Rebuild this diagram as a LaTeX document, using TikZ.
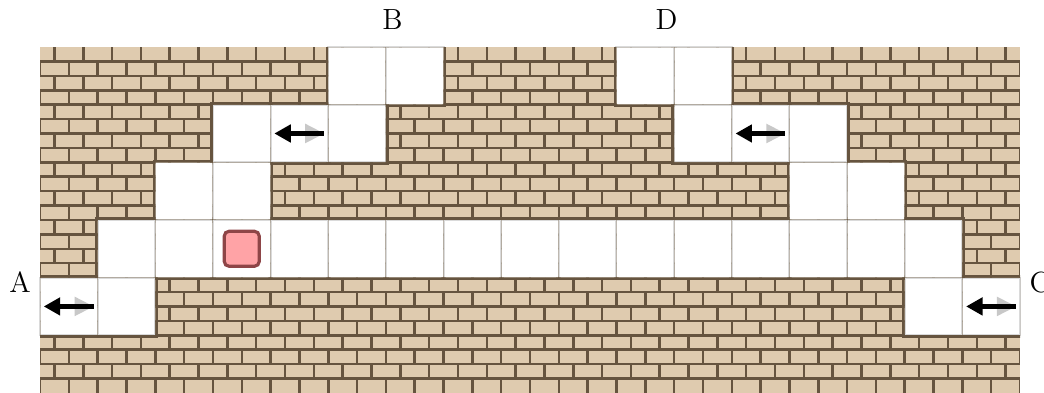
\documentclass[tikz,border=0pt]{standalone}
\usepackage{tikz}
\definecolor{brickfill}{HTML}{DFCBAF}
\definecolor{mortar}{HTML}{66543F}
\definecolor{gridgray}{HTML}{DADADA}
\definecolor{agentfill}{HTML}{FFA3A6}
\definecolor{agentedge}{HTML}{8E4547}
\definecolor{arrowgray}{HTML}{C8C8C8}
\tikzset{
  gridline/.style={draw=gridgray, line width=1pt},
  mortarline/.style={draw=mortar, line width=1.25pt},
  wallborder/.style={draw=mortar, line width=2.6pt},
  agent/.style={draw=agentedge, fill=agentfill, line width=0.055cm, rounded corners=0.08cm, minimum size=0.605cm, inner sep=0pt},
  lbl/.style={font=\Large, inner sep=0pt, anchor=base},
  pics/flowarrow/.style={code={
    \fill[arrowgray] (0.10,0.17) -- (0.43,0) -- (0.10,-0.17) -- cycle;
    \fill[black] (-0.2,0.045) rectangle (0.43,-0.045);
    \fill[black] (-0.43,0) -- (-0.15,0.16) -- (-0.15,-0.16) -- cycle;
  }}
}
\begin{document}
\begin{tikzpicture}[x=1cm,y=1cm]
\useasboundingbox (-0.6939,0.0153) rectangle (17.4163,6.8153);
\def\freecells{5/0,6/0,10/0,11/0,3/1,4/1,5/1,11/1,12/1,13/1,2/2,3/2,13/2,14/2,1/3,2/3,3/3,4/3,5/3,6/3,7/3,8/3,9/3,10/3,11/3,12/3,13/3,14/3,15/3,0/4,1/4,15/4,16/4}
% free cells
\foreach \c/\r in \freecells { \fill[white] (\c,5-\r) rectangle ++(1,1); }
\foreach \c/\r in \freecells { \draw[gridline] (\c,5-\r) rectangle ++(1,1); }
% walls
\begin{scope}[even odd rule]
  \clip (0,0) rectangle (17,6) foreach \c/\r in \freecells {(\c,5-\r) rectangle ++(1,1)};
  \fill[brickfill] (0,0) rectangle (17,6);
  \foreach \k in {1,...,23} \draw[mortarline] (0,\k/4) -- (17,\k/4);
  \foreach \r in {0,...,23} {
    \pgfmathsetmacro\off{0.25*(1-mod(\r,2))}
    \foreach \i in {0,...,34} \draw[mortarline] (\off+\i/2, 6-\r/4) -- ++(0,-0.25);
  }
  \foreach \c/\r in \freecells { \draw[wallborder] (\c,5-\r) rectangle ++(1,1); }
\end{scope}
% arrows
\pic at (4.5,4.5) {flowarrow};
\pic at (12.5,4.5) {flowarrow};
\pic at (0.5,1.5) {flowarrow};
\pic at (16.5,1.5) {flowarrow};
% agent
\node[agent] (agent) at (3.5,2.5) {};
% labels
\node[lbl] (A) at (-0.347,1.733) {A};
\node[lbl] (B) at (6.115,6.295) {B};
\node[lbl] (C) at (17.347,1.733) {C};
\node[lbl] (D) at (10.87,6.295) {D};
\end{tikzpicture}
\end{document}
